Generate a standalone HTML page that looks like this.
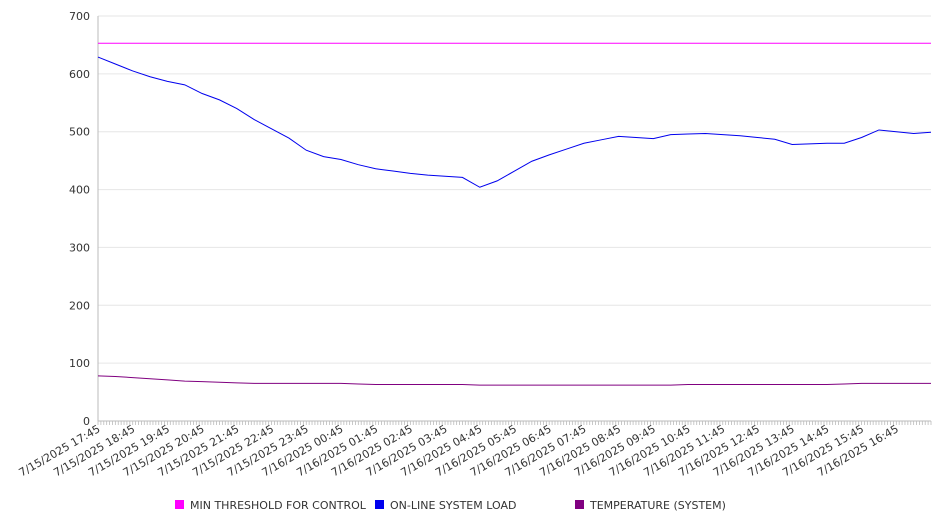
<!DOCTYPE html>
<html><head><meta charset="utf-8"><style>
body{margin:0;background:#fff;width:946px;height:526px;overflow:hidden;font-family:"DejaVu Sans","Liberation Sans",sans-serif}
svg text{font-family:"DejaVu Sans","Liberation Sans",sans-serif;fill:#333}
</style></head><body>
<svg id="chart" width="946" height="526" xmlns="http://www.w3.org/2000/svg"></svg>
<script>
const tickLabels=["7/15/2025 17:45","7/15/2025 18:45","7/15/2025 19:45","7/15/2025 20:45","7/15/2025 21:45","7/15/2025 22:45","7/15/2025 23:45","7/16/2025 00:45","7/16/2025 01:45","7/16/2025 02:45","7/16/2025 03:45","7/16/2025 04:45","7/16/2025 05:45","7/16/2025 06:45","7/16/2025 07:45","7/16/2025 08:45","7/16/2025 09:45","7/16/2025 10:45","7/16/2025 11:45","7/16/2025 12:45","7/16/2025 13:45","7/16/2025 14:45","7/16/2025 15:45","7/16/2025 16:45"];
const yTicks=[0,100,200,300,400,500,600,700];
const thresholdValue=653;
const loadValues=[629,617,605,595,587,581,566,555,540,521,505,489,468,457,452,443,436,432,428,425,423,421,404,415,432,449,460,470,480,486,492,490,488,495,496,497,495,493,490,487,478,479,480,480,490,503,500,497,499];
const tempValues=[78,77,75,73,71,69,68,67,66,65,65,65,65,65,65,64,63,63,63,63,63,63,62,62,62,62,62,62,62,62,62,62,62,62,63,63,63,63,63,63,63,63,63,64,65,65,65,65,65];
const legendNames=["MIN THRESHOLD FOR CONTROL","ON-LINE SYSTEM LOAD","TEMPERATURE (SYSTEM)"];
const legendColors=["#ff00ff","#0000ee","#800080"];

const NS="http://www.w3.org/2000/svg";
const svg=document.getElementById('chart');
const X0=98,X1=931,Y0=421,Y1=16,YMAX=700;
const hourPx=(X1-X0)/24;
const yS=v=>Y0-(v/YMAX)*(Y0-Y1);
const xHalf=i=>X0+i*hourPx/2;
function mk(t,a){const e=document.createElementNS(NS,t);for(const k in a)e.setAttribute(k,a[k]);svg.appendChild(e);return e;}

yTicks.forEach(v=>{
  const g=mk('line',{x1:X0,x2:X1,y1:yS(v),y2:yS(v),stroke:v===0?'#bbb':'#e6e6e6','stroke-width':1});
  
  
  const t=mk('text',{x:X0-8,y:yS(v)+4,'text-anchor':'end','font-size':11});
  t.textContent=v;
  
  
});
const ax=mk('line',{x1:X0,x2:X0,y1:Y1,y2:Y0,stroke:'#bbb'});


for(let i=0;i<=24*12;i++){
  const x=X0+i*hourPx/12;
  const m=mk('line',{x1:x,x2:x,y1:Y0,y2:Y0+4,stroke:'#bbb','stroke-width':0.8});
  
  
}
tickLabels.forEach((l,i)=>{
  const x=X0+i*hourPx;
  const t=mk('text',{x:0,y:0,'text-anchor':'end','font-size':11,transform:`translate(${x+3},${Y0+10}) rotate(-30)`});
  t.textContent=l;
  
  
});
const th=mk('line',{x1:X0,x2:X1,y1:yS(thresholdValue),y2:yS(thresholdValue),stroke:legendColors[0],'stroke-width':1});


function series(vals,color,name){
  const p=mk('polyline',{points:vals.map((v,i)=>xHalf(i)+','+yS(v)).join(' '),fill:'none',stroke:color,'stroke-width':1});
  
  
}
series(loadValues,legendColors[1],'system-load-line');
series(tempValues,legendColors[2],'temperature-line');
legendNames.forEach((n,i)=>{
  const x=175+i*200;
  const r=mk('rect',{x:x,y:500,width:9,height:9,fill:legendColors[i]});
  
  
  const t=mk('text',{x:x+15,y:509,'font-size':11});
  t.textContent=n;
  
  
});
</script>
</body></html>
